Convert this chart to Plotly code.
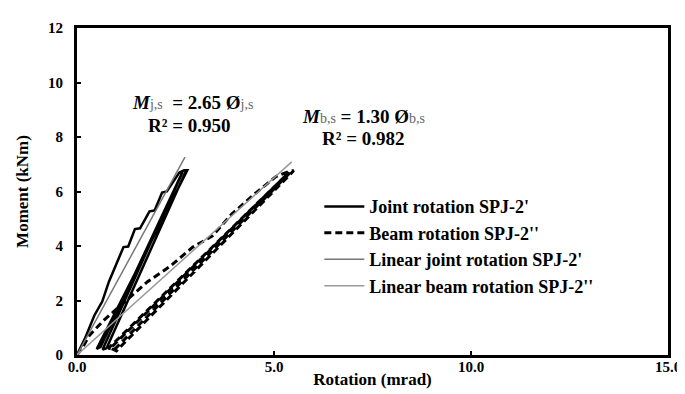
import plotly.graph_objects as go

# Joint rotation SPJ-2' (solid black): loading envelope + unload/reload cycles
joint_x = [0.0, 0.2, 0.44, 0.64, 0.81, 0.98, 1.18, 1.3, 1.47, 1.6, 1.84, 1.97, 2.16, 2.28, 2.6, 2.72, 2.8,
           0.5, 0.6, 2.68, 0.65, 0.75, 2.78]
joint_y = [0.0, 0.6, 1.45, 1.96, 2.69, 3.27, 3.96, 3.98, 4.62, 4.65, 5.27, 5.3, 5.96, 6.0, 6.7, 6.78, 6.78,
           0.22, 0.3, 6.72, 0.2, 0.25, 6.8]

# Beam rotation SPJ-2'' (dashed black)
beam_x = [0.0, 0.15, 0.32, 0.7, 1.22, 1.79, 2.35, 2.94, 3.43, 3.92, 4.49, 5.05, 5.42, 5.5,
          1.0, 0.85, 5.38, 0.8, 0.95, 5.45]
beam_y = [0.0, 0.3, 0.73, 1.3, 1.96, 2.69, 3.24, 3.96, 4.36, 5.16, 5.89, 6.55, 6.76, 6.76,
          0.15, 0.25, 6.7, 0.25, 0.2, 6.75]

# Linear fits
lin_joint_x = [0.0, 2.74]
lin_joint_slope = 2.65
lin_beam_x = [0.0, 5.45]
lin_beam_slope = 1.30

x_ticks = [0, 5, 10, 15]
y_ticks = [0, 2, 4, 6, 8, 10, 12]

FONT = "Liberation Serif"

fig = go.Figure()
fig.add_trace(go.Scatter(x=joint_x, y=joint_y, mode="lines", name="Joint rotation SPJ-2'",
                         line=dict(color="black", width=2.5)))
fig.add_trace(go.Scatter(x=beam_x, y=beam_y, mode="lines", name="Beam rotation SPJ-2''",
                         line=dict(color="black", width=3, dash="7px,4px")))
fig.add_trace(go.Scatter(x=lin_joint_x, y=[lin_joint_slope * v for v in lin_joint_x], mode="lines",
                         name="Linear joint rotation SPJ-2'", line=dict(color="#777777", width=1.5)))
fig.add_trace(go.Scatter(x=lin_beam_x, y=[lin_beam_slope * v for v in lin_beam_x], mode="lines",
                         name="Linear beam rotation SPJ-2''", line=dict(color="#999999", width=1.5)))

sub = "<span style='font-size:14px;font-weight:normal;fill:#666666'>{}</span>"
ann_font = dict(family=FONT, size=19, color="black", weight="bold")
fig.add_annotation(x=2.92, y=9.27, showarrow=False,
                   text="<i>M</i>" + sub.format("j,s") + "  = 2.65 Ø" + sub.format("j,s"), font=ann_font)
fig.add_annotation(x=2.86, y=8.44, showarrow=False, text="R² = 0.950", font=ann_font)
fig.add_annotation(x=7.28, y=8.76, showarrow=False,
                   text="<i>M</i>" + sub.format("b,s") + " = 1.30 Ø" + sub.format("b,s"), font=ann_font)
fig.add_annotation(x=7.28, y=7.96, showarrow=False, text="R² = 0.982", font=ann_font)

axis_common = dict(showgrid=False, zeroline=False, showline=True, linecolor="black", linewidth=3,
                   mirror=True, ticks="inside", ticklen=4, tickwidth=2, tickcolor="black",
                   tickfont=dict(family=FONT, size=15, color="black", weight="bold"))
fig.update_xaxes(range=[0, 15], tickvals=x_ticks, ticktext=[f"{v:.1f}" for v in x_ticks],
                 title=dict(text="Rotation (mrad)", standoff=0,
                            font=dict(family=FONT, size=17, color="black", weight="bold")),
                 **axis_common)
fig.update_yaxes(range=[0, 12], tickvals=y_ticks,
                 title=dict(text="Moment (kNm)", standoff=16,
                            font=dict(family=FONT, size=17, color="black", weight="bold")),
                 **axis_common)
try:
    fig.update_xaxes(ticklabelstandoff=-4)
except ValueError:
    pass
try:
    fig.update_yaxes(ticklabelstandoff=8)
except ValueError:
    pass

fig.update_layout(
    width=685, height=394,
    margin=dict(l=67, r=22, t=17, b=47),
    plot_bgcolor="white", paper_bgcolor="white",
    legend=dict(x=0.41, y=0.51, xanchor="left", yanchor="top", bgcolor="rgba(0,0,0,0)",
                itemwidth=40,
                font=dict(family=FONT, size=18, color="black", weight="bold")),
)

fig.write_html("out.html")
